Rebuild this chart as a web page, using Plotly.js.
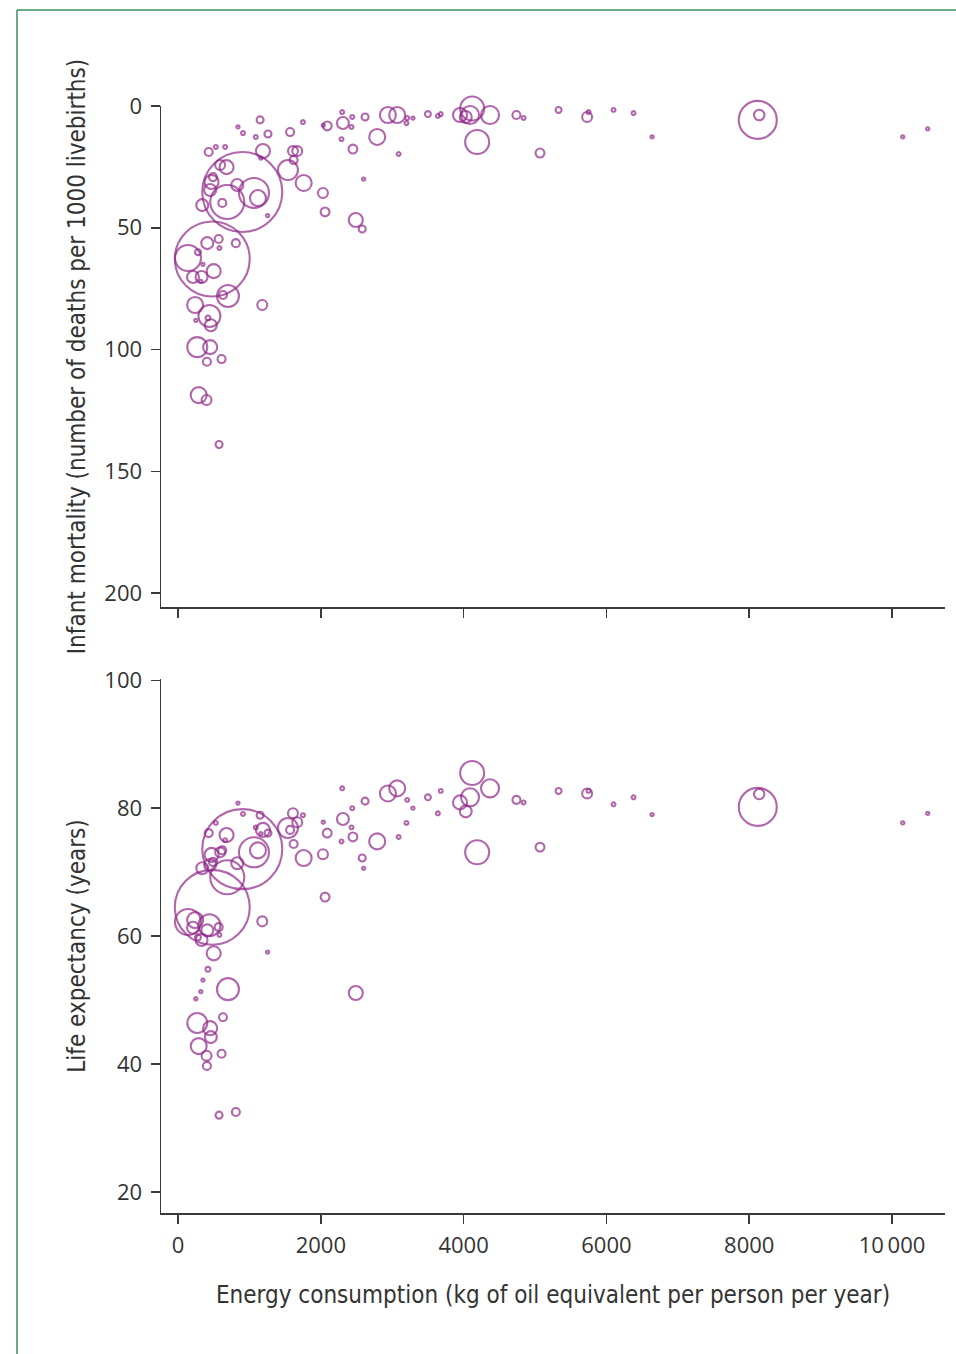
<!DOCTYPE html>
<html>
<head>
<meta charset="utf-8">
<script src="https://cdn.plot.ly/plotly-3.0.1.min.js"></script>
<style>
  html, body { margin: 0; padding: 0; background: #ffffff; }
  #chart { width: 956px; height: 1354px; }
</style>
</head>
<body>
<div id="chart"></div>
<script>
// Energy consumption (kg of oil equivalent per person per year)
const energy = [
  900, 480, 8120, 8140, 690, 140, 1064, 1120, 4190, 4120,
  4370, 4090, 3950, 4030, 3070, 2940, 2790, 1540, 1760, 1190,
  1610, 1670, 2030, 2060, 2490, 2580, 2310, 2450, 2440, 2430,
  2090, 2620, 2300, 2290, 3210, 3200, 3090, 3500, 3680, 3640,
  4740, 4840, 5070, 5330, 5730, 5750, 6100, 6380, 6640, 10150,
  10500, 1750, 1150, 840, 910, 1090, 1260, 1570, 430, 530,
  660, 680, 590, 470, 450, 490, 340, 620, 830, 1620,
  410, 570, 580, 280, 500, 330, 210, 700, 440, 420,
  630, 240, 270, 450, 290, 400, 610, 460, 575, 810,
  405, 1180, 1255, 350, 320, 250, 2035, 2600, 3290, 1160
];
// Infant mortality (deaths per 1000 livebirths)
const infantMortality = [
  35.3, 62.8, 5.7, 3.7, 39.4, 62.4, 35.7, 37.8, 14.8, 1.0,
  3.7, 3.7, 3.7, 4.5, 3.7, 3.7, 12.7, 26.3, 31.6, 18.5,
  18.5, 18.5, 35.7, 43.5, 46.8, 50.5, 7.0, 17.7, 4.5, 8.6,
  8.2, 4.5, 2.5, 13.6, 4.9, 7.0, 19.7, 3.3, 3.3, 4.1,
  3.7, 4.9, 19.3, 1.6, 4.5, 2.5, 1.6, 2.9, 12.7, 12.7,
  9.4, 6.6, 5.7, 8.6, 11.1, 12.7, 11.5, 10.7, 18.9, 16.8,
  16.8, 25.1, 24.2, 31.2, 34.5, 29.2, 40.7, 39.8, 32.4, 22.2,
  56.3, 54.6, 58.3, 60.0, 67.8, 70.2, 70.2, 78.0, 86.2, 87.0,
  77.6, 81.7, 99.0, 99.0, 118.7, 120.7, 103.9, 90.0, 139.0, 56.3,
  105.0, 81.7, 45.0, 65.0, 72.0, 88.0, 8.0, 30.0, 5.0, 21.4
];
// Life expectancy (years)
const lifeExpectancy = [
  73.6, 64.5, 80.2, 82.2, 69.2, 62.2, 73.1, 73.4, 73.1, 85.5,
  83.1, 81.7, 80.9, 79.5, 83.1, 82.3, 74.8, 76.9, 72.2, 76.6,
  79.2, 77.8, 72.8, 66.1, 51.1, 72.2, 78.3, 75.5, 80.0, 77.0,
  76.1, 81.1, 83.1, 74.8, 81.3, 77.7, 75.5, 81.7, 82.7, 79.2,
  81.3, 80.9, 73.9, 82.7, 82.3, 82.7, 80.6, 81.7, 79.0, 77.7,
  79.2, 78.9, 78.9, 80.8, 79.1, 77.0, 76.1, 76.6, 76.1, 77.7,
  75.0, 75.8, 73.1, 72.7, 71.1, 71.6, 70.6, 73.4, 71.4, 74.4,
  60.9, 61.4, 60.2, 59.8, 57.3, 59.4, 61.3, 51.7, 61.7, 54.8,
  47.3, 62.5, 46.4, 45.6, 42.8, 41.3, 41.6, 44.2, 32.0, 32.5,
  39.7, 62.3, 57.5, 53.1, 51.3, 50.2, 77.8, 70.6, 80.0, 76.0
];
// Population (millions) -> bubble area
const population = [
  1300, 1140, 293, 22, 235, 137, 183, 52, 117, 117,
  66, 66, 40, 29, 52, 52, 52, 81, 52, 40,
  20, 20, 20, 16, 40, 10, 29, 16, 3, 3,
  16, 10, 3, 3, 3, 3, 3, 7, 3, 3,
  13, 3, 16, 7, 20, 3, 3, 3, 2, 2,
  2, 3, 10, 2, 3, 3, 10, 13, 13, 3,
  3, 40, 20, 40, 29, 13, 29, 13, 29, 13,
  29, 13, 3, 7, 40, 29, 29, 98, 98, 5,
  13, 52, 81, 40, 52, 20, 13, 29, 10, 13,
  13, 20, 2, 2, 2, 2, 2, 2, 2, 2
];
const xTicks = [0, 2000, 4000, 6000, 8000, 10000];
const xTickText = ['0', '2000', '4000', '6000', '8000', '10\u2009000'];
const imrTicks = [0, 50, 100, 150, 200];
const leTicks = [20, 40, 60, 80, 100];

const purple = '#902888';
const axisColor = '#3a3a3a';
const tickFont = { family: 'Open Sans, Noto Sans, sans-serif', size: 22, color: '#333333' };
const titleFont = { family: 'Liberation Sans Narrow, DejaVu Sans Condensed, sans-serif', size: 24, color: '#333333' };

const markerStyle = {
  size: population,
  sizemode: 'area',
  sizeref: 0.406,
  sizemin: 1.6,
  color: 'rgba(0,0,0,0)',
  line: { color: purple, width: 2.1 }
};

const traces = [
  { type: 'scatter', mode: 'markers', x: energy, y: infantMortality,
    xaxis: 'x', yaxis: 'y', marker: markerStyle, cliponaxis: false, hoverinfo: 'skip' },
  { type: 'scatter', mode: 'markers', x: energy, y: lifeExpectancy,
    xaxis: 'x2', yaxis: 'y2', marker: markerStyle, cliponaxis: false, hoverinfo: 'skip' }
];

const axisCommon = {
  showline: true, linecolor: axisColor, linewidth: 1.5,
  ticks: 'outside', ticklen: 9, tickwidth: 1.5, tickcolor: axisColor,
  showgrid: false, zeroline: false, tickfont: tickFont
};

const layout = {
  width: 956, height: 1354,
  margin: { l: 161, r: 11, t: 106, b: 141 },
  paper_bgcolor: '#ffffff', plot_bgcolor: '#ffffff',
  showlegend: false,
  xaxis: Object.assign({}, axisCommon, {
    anchor: 'y', domain: [0, 1], range: [-238, 10742],
    tickvals: xTicks, ticktext: xTickText, showticklabels: false
  }),
  yaxis: Object.assign({}, axisCommon, {
    anchor: 'x', domain: [0.5474, 1], range: [205.7, 0],
    tickvals: imrTicks, ticklabelstandoff: 4,
    title: { text: 'Infant mortality (number of deaths per 1000 livebirths)', font: titleFont, standoff: 12 }
  }),
  xaxis2: Object.assign({}, axisCommon, {
    anchor: 'y2', domain: [0, 1], range: [-238, 10742],
    tickvals: xTicks, ticktext: xTickText, ticklabelstandoff: 3,
    title: { text: 'Energy consumption (kg of oil equivalent per person per year)', font: titleFont, standoff: 28 }
  }),
  yaxis2: Object.assign({}, axisCommon, {
    anchor: 'x2', domain: [0, 0.4824], range: [16.7, 100.2],
    tickvals: leTicks, ticklabelstandoff: 4,
    title: { text: 'Life expectancy (years)', font: titleFont, standoff: 12 }
  }),
  shapes: [
    { type: 'line', xref: 'paper', yref: 'paper', x0: -0.1837, x1: -0.1837, y0: 1.0867, y1: -0.14,
      line: { color: '#3a8f5e', width: 1.5 } },
    { type: 'line', xref: 'paper', yref: 'paper', x0: -0.1837, x1: 1.02, y0: 1.0867, y1: 1.0867,
      line: { color: '#3a8f5e', width: 1.5 } }
  ]
};

Plotly.newPlot('chart', traces, layout, { staticPlot: true, displayModeBar: false });
</script>
</body>
</html>
